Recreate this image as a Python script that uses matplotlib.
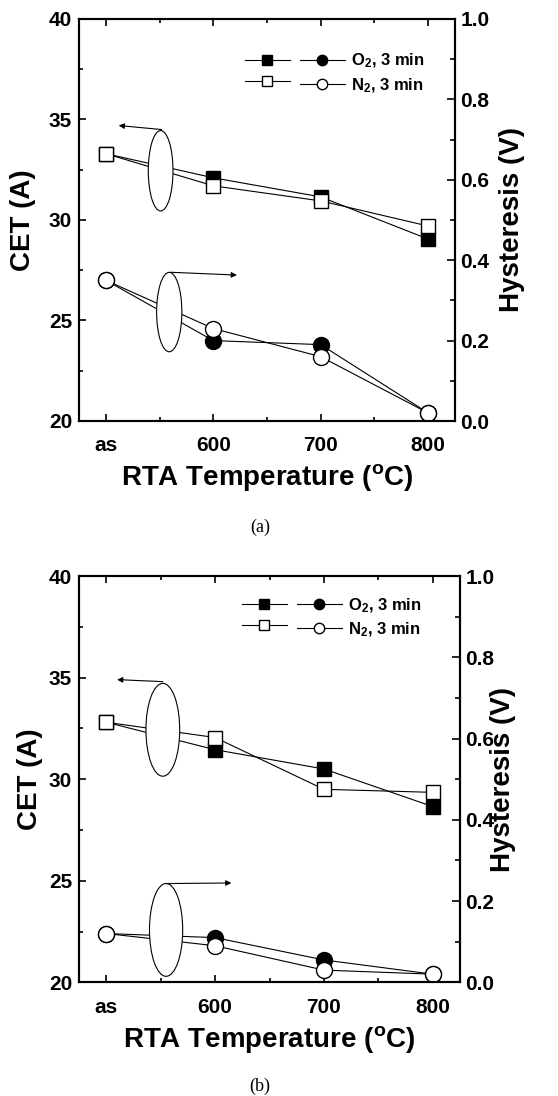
import matplotlib
matplotlib.use('Agg')
import matplotlib.pyplot as plt
from matplotlib.patches import Ellipse

plt.rcParams['font.family'] = ['Liberation Sans', 'DejaVu Sans']
plt.rcParams['font.weight'] = 'bold'
plt.rcParams['axes.labelweight'] = 'bold'
plt.rcParams['mathtext.fontset'] = 'custom'
plt.rcParams['mathtext.rm'] = 'Liberation Sans:bold'
plt.rcParams['mathtext.bf'] = 'Liberation Sans:bold'
plt.rcParams['mathtext.it'] = 'Liberation Sans:bold'
plt.rcParams['mathtext.default'] = 'rm'

# RTA temperature ("as" = as deposited)
temps = [500, 600, 700, 800]
temp_labels = ['as', '600', '700', '800']

# panel (a)
cet_o2_a = [33.3, 32.1, 31.15, 29.05]
cet_n2_a = [33.3, 31.7, 30.95, 29.7]
hys_o2_a = [0.35, 0.20, 0.19, 0.02]
hys_n2_a = [0.35, 0.23, 0.16, 0.02]

# panel (b)
cet_o2_b = [32.8, 31.45, 30.5, 28.65]
cet_n2_b = [32.8, 32.05, 29.5, 29.35]
hys_o2_b = [0.12, 0.11, 0.055, 0.02]
hys_n2_b = [0.12, 0.09, 0.03, 0.02]

# ellipse markers (x centre, CET centre, width, height) and arrows (tail, head)
ell_cet_a = (551, 32.45, 23, 4.0)
ell_hys_a = (559, 25.42, 23.5, 3.95)
arr_cet_a = ((552, 34.5), (512, 34.7))
arr_hys_a = ((560, 27.4), (622, 27.26))

ell_cet_b = (552, 32.43, 31, 4.57)
ell_hys_b = (555, 22.58, 30.5, 4.57)
arr_cet_b = ((552, 34.8), (510, 34.9))
arr_hys_b = ((555, 24.86), (615, 24.89))


def draw_panel(fig, rect, cet_o2, cet_n2, hys_o2, hys_n2,
               ell_cet, ell_hys, arr_cet, arr_hys,
               leg_pos, left_lab_x, right_lab_x):
    ax = fig.add_axes(rect)
    ax2 = ax.twinx()

    # CET (left axis) squares
    h1, = ax.plot(temps, cet_o2, '-s', color='k', lw=0.8, ms=10,
                  mfc='k', mec='k', mew=1.0)
    h2, = ax.plot(temps, cet_n2, '-s', color='k', lw=0.8, ms=10,
                  mfc='white', mec='k', mew=1.0)
    # Hysteresis (right axis) circles
    h3, = ax2.plot(temps, hys_o2, '-o', color='k', lw=0.8, ms=11.5,
                   mfc='k', mec='k', mew=1.0)
    h4, = ax2.plot(temps, hys_n2, '-o', color='k', lw=0.8, ms=11.5,
                   mfc='white', mec='k', mew=1.0)

    ax.set_xlim(475, 825)
    ax.set_ylim(20, 40)
    ax2.set_ylim(0, 1.0)
    ax.set_xticks(temps)
    ax.set_xticklabels(temp_labels)
    ax.set_xticks([550, 650, 750], minor=True)
    ax.set_yticks([20, 25, 30, 35, 40])
    ax.set_yticks([22.5, 27.5, 32.5, 37.5], minor=True)
    ax2.set_yticks([0.0, 0.2, 0.4, 0.6, 0.8, 1.0])
    ax2.set_yticklabels(['0.0', '0.2', '0.4', '0.6', '0.8', '1.0'])
    ax2.set_yticks([0.1, 0.3, 0.5, 0.7, 0.9], minor=True)

    for a in (ax, ax2):
        for s in a.spines.values():
            s.set_linewidth(1.5)
    ax.tick_params(which='major', direction='in', length=5, width=1.2,
                   labelsize=15, top=True)
    ax.tick_params(which='minor', direction='in', length=3, width=1.2, top=True)
    ax.tick_params(axis='x', pad=11)
    ax.tick_params(axis='y', pad=5)
    ax2.tick_params(which='major', direction='in', length=5.5, width=1.2,
                    labelsize=15, pad=4)
    ax2.tick_params(which='minor', direction='in', length=3.5, width=1.2)

    ax.set_xlabel(r'RTA Temperature ($^\mathrm{o}$C)', fontsize=20, labelpad=5)
    ax.set_ylabel('CET (A)', fontsize=20)
    ax2.set_ylabel('Hysteresis (V)', fontsize=20)
    ax.yaxis.set_label_coords(left_lab_x, 0.5)
    ax2.yaxis.set_label_coords(right_lab_x, 0.5)

    # white ellipses with arrows pointing to the axis they belong to
    for (xc, yc, w, h), (tail, head) in ((ell_cet, arr_cet), (ell_hys, arr_hys)):
        e = Ellipse((xc, yc), w, h, transform=ax.transData, facecolor='white',
                    edgecolor='k', lw=0.8, zorder=5)
        ax2.add_patch(e)
        ax2.annotate('', xy=head, xytext=tail, xycoords=ax.transData,
                     textcoords=ax.transData,
                     arrowprops=dict(arrowstyle='-|>', color='k', lw=0.8,
                                     mutation_scale=8, shrinkA=0, shrinkB=0),
                     zorder=6)

    ax2.legend(handles=[h1, h2, h3, h4],
               labels=['', '', r'O$_2$, 3 min', r'N$_2$, 3 min'],
               ncol=2, loc='center', bbox_to_anchor=leg_pos, frameon=False,
               fontsize=12, handlelength=2.7, handletextpad=0.36,
               columnspacing=0.24, markerscale=0.65, labelspacing=0.35,
               borderpad=0, borderaxespad=0)
    return ax, ax2


fig = plt.figure(figsize=(5.58, 10.96), dpi=100)

draw_panel(fig, [79 / 558, 1 - 421 / 1096, 376 / 558, 402 / 1096],
           cet_o2_a, cet_n2_a, hys_o2_a, hys_n2_a,
           ell_cet_a, ell_hys_a, arr_cet_a, arr_hys_a,
           (0.68, 0.865), -0.115, 1.117)
fig.text(260 / 558, 1 - 527 / 1096, '(a)', ha='center', va='center',
         family='Liberation Serif', weight='normal', fontsize=13)

draw_panel(fig, [79 / 558, 1 - 982.3 / 1096, 381 / 558, 406.3 / 1096],
           cet_o2_b, cet_n2_b, hys_o2_b, hys_n2_b,
           ell_cet_b, ell_hys_b, arr_cet_b, arr_hys_b,
           (0.663, 0.898), -0.095, 1.079)
fig.text(260 / 558, 1 - 1086 / 1096, '(b)', ha='center', va='center',
         family='Liberation Serif', weight='normal', fontsize=13)

fig.savefig('out.png', dpi=100)
